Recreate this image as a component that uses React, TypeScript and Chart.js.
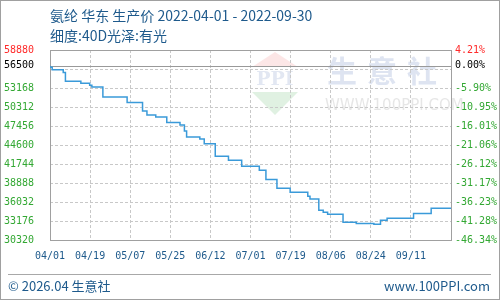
import React, { useEffect, useRef } from 'react';
import { Chart, registerables } from 'chart.js';

Chart.register(...registerables);

// ---------- data ----------
const titleLine1 = '氨纶 华东 生产价 2022-04-01 - 2022-09-30';
const titleLine2 = '细度:40D光泽:有光';
const footerLeft = '© 2026.04 生意社';
const footerRight = 'www.100PPI.com';

const startDate = '2022-04-01';
const endDate = '2022-09-30';

// dates on which the price changed, and the price from that date on
const changeDates = [
  '2022-04-01', '2022-04-02', '2022-04-07', '2022-04-08', '2022-04-15', '2022-04-19',
  '2022-04-20', '2022-04-25', '2022-05-06', '2022-05-13', '2022-05-15', '2022-05-19',
  '2022-05-24', '2022-05-30', '2022-06-01', '2022-06-02', '2022-06-08', '2022-06-10',
  '2022-06-15', '2022-06-21', '2022-06-27', '2022-07-05', '2022-07-08', '2022-07-13',
  '2022-07-19', '2022-07-27', '2022-07-28', '2022-08-01', '2022-08-03', '2022-08-05',
  '2022-08-12', '2022-08-18', '2022-08-26', '2022-08-29', '2022-09-01', '2022-09-13',
  '2022-09-21', '2022-09-25', '2022-09-30',
];
const prices = [
  56500, 56300, 55900, 55500, 54200, 53900,
  53600, 53300, 51800, 51000, 49700, 49100,
  48800, 48000, 47600, 46700, 45800, 45500,
  44800, 42900, 42300, 41400, 40800, 39400,
  38100, 37500, 36900, 36500, 34800, 34500,
  34200, 33000, 32800, 32700, 33300, 33600,
  34300, 35100, 35100,
];

const xTickLabels = ['04/01', '04/19', '05/07', '05/25', '06/12', '07/01', '07/19', '08/06', '08/24', '09/11'];

const yMin = 30320;
const yMax = 58880;
const basePrice = 56500;
const yIntervals = 10;

// ---------- helpers ----------
const DAY = 86400000;
const dayOffset = (d: string) => (Date.parse(d) - Date.parse(startDate)) / DAY;
const totalDays = dayOffset(endDate);
const yStep = (yMax - yMin) / yIntervals;

const TITLE_COLOR = '#1e5a8c';
const RED = '#ff2a2a';
const GREEN = '#33a833';

function yTicks() {
  const t: { value: number }[] = [];
  for (let i = 0; i <= yIntervals; i++) t.push({ value: yMin + i * yStep });
  t.push({ value: basePrice });
  t.sort((a, b) => a.value - b.value);
  return t;
}
const isBase = (v: number) => Math.abs(v - basePrice) < 1e-6;
const hiddenNearBase = (v: number) => !isBase(v) && Math.abs(v - basePrice) < yStep / 2;
const tickColor = (v: number) => (Math.abs(v - yMax) < 1e-6 ? RED : isBase(v) ? '#000000' : GREEN);

const decorPlugin = {
  id: 'decor',
  beforeDraw(chart: any) {
    const ctx = chart.ctx;
    const { left, top } = chart.chartArea;
    ctx.save();
    // watermark diamond
    const cx = left + 225;
    ctx.fillStyle = 'rgba(240,140,140,0.22)';
    ctx.beginPath();
    ctx.moveTo(cx, top + 2);
    ctx.lineTo(cx + 23, top + 17);
    ctx.lineTo(cx - 23, top + 17);
    ctx.closePath();
    ctx.fill();
    ctx.fillStyle = 'rgba(130,200,140,0.25)';
    ctx.beginPath();
    ctx.moveTo(cx - 23, top + 42);
    ctx.lineTo(cx + 23, top + 42);
    ctx.lineTo(cx, top + 65);
    ctx.closePath();
    ctx.fill();
    ctx.fillStyle = 'rgba(150,170,210,0.28)';
    ctx.font = 'bold 19px "DejaVu Serif"';
    ctx.textAlign = 'center';
    ctx.textBaseline = 'middle';
    ctx.fillText('PPI', cx, top + 30);
    // watermark text
    ctx.fillStyle = 'rgba(160,178,215,0.35)';
    ctx.font = 'bold 30px "Noto Sans CJK SC"';
    ctx.textAlign = 'left';
    const chars = ['生', '意', '社'];
    chars.forEach((c, i) => ctx.fillText(c, left + 277 + i * 40, top + 21));
    ctx.fillStyle = 'rgba(200,200,200,0.45)';
    ctx.font = '15px "DejaVu Sans"';
    ctx.fillText('WWW.100PPI.COM', left + 275, top + 56);
    ctx.restore();
  },
  beforeDatasetsDraw(chart: any) {
    const ctx = chart.ctx;
    const { left, right, top, bottom } = chart.chartArea;
    const y = Math.round(chart.scales.y.getPixelForValue(basePrice)) + 0.5;
    ctx.save();
    ctx.strokeStyle = '#999999';
    ctx.lineWidth = 1;
    ctx.beginPath();
    ctx.moveTo(left, y);
    ctx.lineTo(right, y);
    ctx.stroke();
    ctx.strokeStyle = '#a0a0a0';
    ctx.strokeRect(Math.round(left) + 0.5, Math.round(top) + 0.5, Math.round(right - left), Math.round(bottom - top));
    ctx.restore();
  },
};

export default function App() {
  const ref = useRef<HTMLCanvasElement | null>(null);

  useEffect(() => {
    if (!ref.current) return;
    const data = changeDates.map((d, i) => ({ x: dayOffset(d), y: prices[i] }));
    const monoFont = { family: '"DejaVu Sans Mono", monospace', size: 10 };
    const chart = new Chart(ref.current, {
      type: 'line',
      data: {
        datasets: [
          {
            data,
            borderColor: '#3a9ad9',
            borderWidth: 1.5,
            pointRadius: 0,
            stepped: 'after',
            fill: false,
            yAxisID: 'y',
          },
        ],
      },
      options: {
        animation: false,
        responsive: false,
        devicePixelRatio: 1,
        layout: { padding: { top: 50, left: 0, right: 0, bottom: 0 } },
        plugins: { legend: { display: false }, tooltip: { enabled: false } },
        scales: {
          x: {
            type: 'linear',
            min: 0,
            max: totalDays,
            afterBuildTicks: (scale: any) => {
              scale.ticks = xTickLabels.map((_, i) => ({ value: (i * totalDays) / xTickLabels.length }));
            },
            afterFit: (scale: any) => {
              scale.height = 60;
            },
            ticks: {
              autoSkip: false,
              maxRotation: 0,
              padding: 10,
              color: TITLE_COLOR,
              font: monoFont,
              callback: (_v: any, i: number) => xTickLabels[i],
            },
            grid: { color: '#c8c8c8', drawTicks: false, lineWidth: 1 },
            border: { display: false, dash: [3, 2] },
          },
          y: {
            type: 'linear',
            position: 'left',
            min: yMin,
            max: yMax,
            afterBuildTicks: (scale: any) => {
              scale.ticks = yTicks();
            },
            afterFit: (scale: any) => {
              scale.width = 50;
            },
            ticks: {
              autoSkip: false,
              padding: 16,
              font: monoFont,
              color: (c: any) => tickColor(c.tick.value),
              callback: (v: any) => (hiddenNearBase(v) ? '' : String(Math.round(v))),
            },
            grid: {
              drawTicks: false,
              color: (c: any) => (c.tick && isBase(c.tick.value) ? 'rgba(0,0,0,0)' : '#c8c8c8'),
            },
            border: { display: false, dash: [3, 2] },
          },
          y2: {
            type: 'linear',
            position: 'right',
            min: yMin,
            max: yMax,
            afterBuildTicks: (scale: any) => {
              scale.ticks = yTicks();
            },
            afterFit: (scale: any) => {
              scale.width = 49;
            },
            ticks: {
              autoSkip: false,
              padding: 4,
              font: monoFont,
              color: (c: any) => tickColor(c.tick.value),
              callback: (v: any) =>
                hiddenNearBase(v) ? '' : (((v - basePrice) / basePrice) * 100).toFixed(2) + '%',
            },
            grid: { display: false, drawTicks: false },
            border: { display: false },
          },
        },
      },
      plugins: [decorPlugin],
    } as any);
    return () => chart.destroy();
  }, []);

  const textFont = '"Noto Sans CJK SC", "Noto Sans", sans-serif';
  return (
    <div
      style={{
        position: 'fixed',
        left: 0,
        top: 0,
        width: 500,
        height: 300,
        background: '#ffffff',
        boxSizing: 'border-box',
        border: '1px solid #a0a0a0',
        overflow: 'hidden',
      }}
    >
      <canvas ref={ref} width={500} height={300} style={{ position: 'absolute', left: -1, top: -1, width: 500, height: 300 }} />
      <div style={{ position: 'absolute', left: 49, top: 5, fontFamily: textFont, fontSize: 14, lineHeight: '18px', color: TITLE_COLOR, whiteSpace: 'nowrap' }}>
        {titleLine1}
      </div>
      <div style={{ position: 'absolute', left: 49, top: 25, fontFamily: textFont, fontSize: 14, lineHeight: '18px', color: TITLE_COLOR, whiteSpace: 'nowrap' }}>
        {titleLine2}
      </div>
      <div style={{ position: 'absolute', left: 7, top: 273, width: 483, height: 1, background: '#a8a8a8' }} />
      <div style={{ position: 'absolute', left: 7, top: 277, fontFamily: textFont, fontSize: 13, lineHeight: '16px', color: TITLE_COLOR, whiteSpace: 'nowrap' }}>
        {footerLeft}
      </div>
      <div style={{ position: 'absolute', right: 9, top: 277, fontFamily: textFont, fontSize: 13, lineHeight: '16px', color: TITLE_COLOR, whiteSpace: 'nowrap' }}>
        {footerRight}
      </div>
    </div>
  );
}
